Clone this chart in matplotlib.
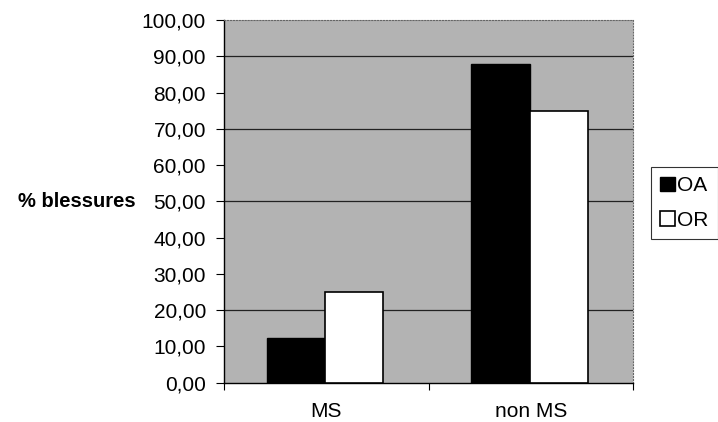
import numpy as np
import matplotlib.pyplot as plt

plt.rcParams['font.family'] = ['Liberation Sans', 'DejaVu Sans']

categories = ['MS', 'non MS']
oa_values = [12.3, 87.8]
or_values = [25.0, 74.8]
y_ticks = np.arange(0, 101, 10)
y_tick_labels = ['%d,00' % v for v in y_ticks]
grid_levels = [20, 50, 70, 90]

fig = plt.figure(figsize=(7.18, 4.22), dpi=100)
ax = fig.add_axes([0.312, 0.0931, 0.5696, 0.8595])
ax.set_facecolor('#b3b3b3')

x = np.arange(len(categories))
w = 0.285
ax.bar(x - 0.148, oa_values, width=w, color='black', edgecolor='black', linewidth=1, label='OA', zorder=3)
ax.bar(x + 0.137, or_values, width=w, color='white', edgecolor='black', linewidth=1.2, label='OR', zorder=3)

for g in grid_levels:
    ax.axhline(g, color='#222222', linewidth=0.9, zorder=2)

ax.set_xlim(-0.5, 1.5)
ax.set_ylim(0, 100)
ax.set_yticks(y_ticks)
ax.set_yticklabels(y_tick_labels, fontsize=15)
ax.tick_params(axis='y', direction='out', length=6, width=0.8, pad=7)

ax.set_xticks([-0.5, 0.5, 1.5])
ax.set_xticklabels(['', '', ''])
ax.set_xticks(x, minor=True)
ax.set_xticklabels(categories, minor=True, fontsize=15)
ax.tick_params(axis='x', which='major', direction='out', length=5, width=0.8)
ax.tick_params(axis='x', which='minor', length=0, pad=14)

for side in ['top', 'right']:
    ax.spines[side].set_color('#666666')
    ax.spines[side].set_linewidth(0.8)
    ax.spines[side].set_linestyle(':')
for side in ['left', 'bottom']:
    ax.spines[side].set_color('black')
    ax.spines[side].set_linewidth(1)

fig.text(136 / 718, 1 - 202 / 422, '% blessures', fontsize=14.5, fontweight='bold',
         ha='right', va='center')

leg = fig.legend(loc='upper left', bbox_to_anchor=(651 / 718, 1 - 167 / 422), fontsize=15,
                 frameon=True, fancybox=False, handlelength=0.7, handleheight=0.7,
                 handletextpad=0.1, borderpad=0.45, labelspacing=0.75, borderaxespad=0)
leg.get_frame().set_edgecolor('black')
leg.get_frame().set_linewidth(0.8)

fig.savefig('out.png', dpi=100)
